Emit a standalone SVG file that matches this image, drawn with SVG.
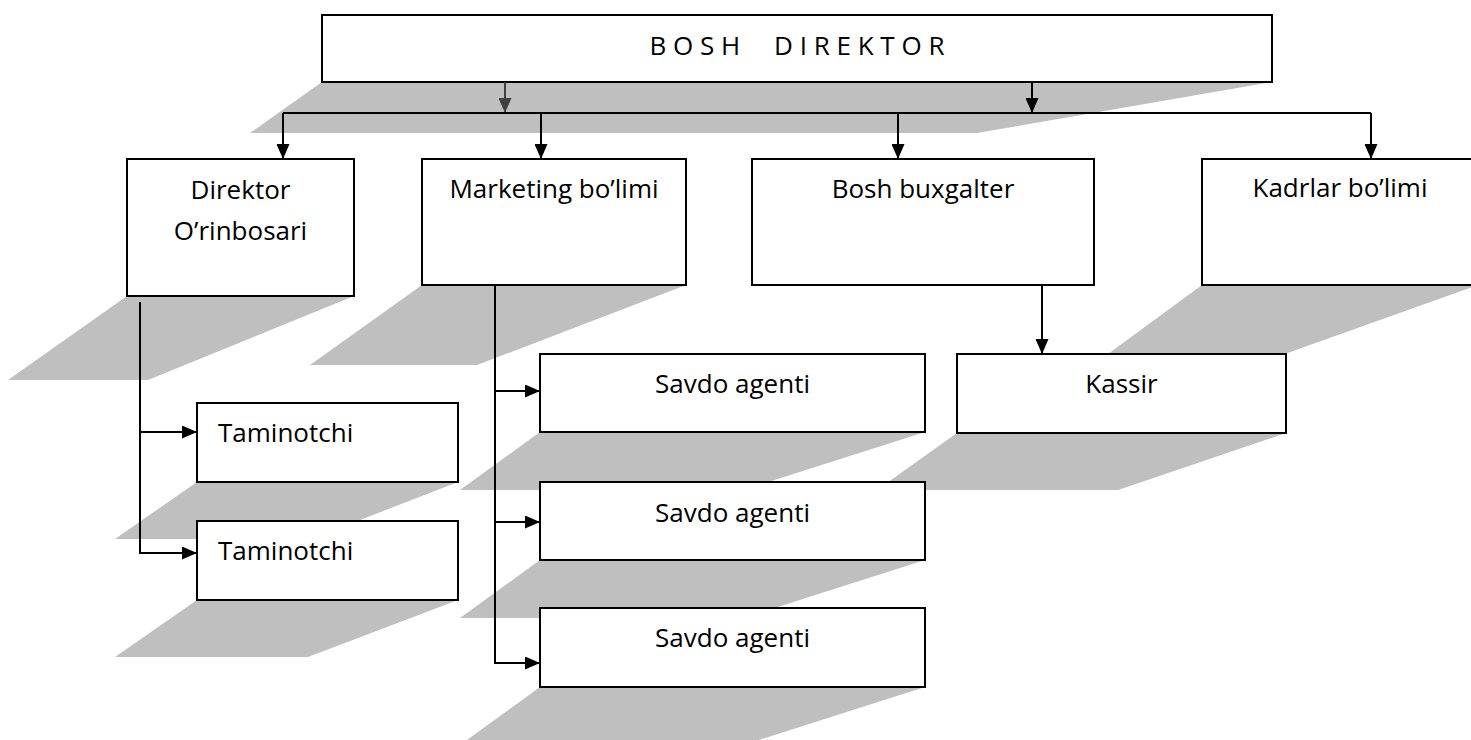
<svg xmlns="http://www.w3.org/2000/svg" width="1471" height="740" viewBox="0 0 1471 740">
<defs>
<marker id="ah" markerUnits="userSpaceOnUse" markerWidth="15" markerHeight="13" refX="15" refY="6.5" orient="auto"><path d="M0,0 L15,6.5 L0,13 z" fill="#000"/></marker>
<marker id="ahg" markerUnits="userSpaceOnUse" markerWidth="15" markerHeight="13" refX="15" refY="6.5" orient="auto"><path d="M0,0 L15,6.5 L0,13 z" fill="#404040"/></marker>
<style>
.sh{fill:#bfbfbf;stroke:none}
.bx{fill:#fff;stroke:#000;stroke-width:2}
.t{font-family:"Open Sans","Liberation Sans",sans-serif;font-size:26px;fill:#000}
.c{text-anchor:middle}
.ln{fill:none;stroke:#000;stroke-width:2}
.lg{fill:none;stroke:#404040;stroke-width:2}
</style>
</defs>
<rect width="1471" height="740" fill="#fff"/>
<g id="node-bosh-direktor">
<polygon class="sh" points="322,82 1272,82 977,133 250,133"/>
<rect class="bx" x="322" y="15" width="950" height="67"/>
<text class="t c" x="797" y="55" font-size="25" xml:space="preserve">B O S H     D I R E K T O R</text>
</g>
<g id="node-direktor-orinbosari">
<polygon class="sh" points="127,296 354,296 148,380 8,380"/>
<rect class="bx" x="127" y="159" width="227" height="137"/>
<text class="t c" x="240.5" y="199">Direktor</text>
<text class="t c" x="240.5" y="240">O’rinbosari</text>
</g>
<g id="node-marketing">
<polygon class="sh" points="422,285 686,285 477,365 310,365"/>
<rect class="bx" x="422" y="159" width="264" height="126"/>
<text class="t c" x="554" y="198">Marketing bo’limi</text>
</g>
<g id="node-bosh-buxgalter">
<rect class="bx" x="752" y="159" width="342" height="126"/>
<text class="t c" x="923" y="198">Bosh buxgalter</text>
</g>
<g id="node-kadrlar">
<polygon class="sh" points="1202,285 1478,285 1254,365 1093,365"/>
<rect class="bx" x="1202" y="159" width="276" height="126"/>
<text class="t c" x="1340" y="197">Kadrlar bo’limi</text>
</g>
<g id="node-kassir">
<polygon class="sh" points="957,433 1286,433 1118,490 877,490"/>
<rect class="bx" x="957" y="354" width="329" height="79"/>
<text class="t c" x="1121.5" y="393">Kassir</text>
</g>
<g id="node-taminotchi-1">
<polygon class="sh" points="197,482 458,482 311,539 115,539"/>
<rect class="bx" x="197" y="403" width="261" height="79"/>
<text class="t" x="218" y="442">Taminotchi</text>
</g>
<g id="node-taminotchi-2">
<polygon class="sh" points="197,600 458,600 308,657 115,657"/>
<rect class="bx" x="197" y="521" width="261" height="79"/>
<text class="t" x="218" y="560">Taminotchi</text>
</g>
<g id="node-savdo-agenti-1">
<polygon class="sh" points="540,432 925,432 743,490 460,490"/>
<rect class="bx" x="540" y="354" width="385" height="78"/>
<text class="t c" x="732.5" y="393">Savdo agenti</text>
</g>
<g id="node-savdo-agenti-2">
<polygon class="sh" points="540,560 925,560 743,618 460,618"/>
<rect class="bx" x="540" y="482" width="385" height="78"/>
<text class="t c" x="732.5" y="522">Savdo agenti</text>
</g>
<g id="node-savdo-agenti-3">
<polygon class="sh" points="540,687 925,687 743,745 460,745"/>
<rect class="bx" x="540" y="608" width="385" height="79"/>
<text class="t c" x="732.5" y="647">Savdo agenti</text>
</g>
<g id="connectors">
<path class="lg" d="M505,82 V113" marker-end="url(#ahg)"/>
<path class="ln" d="M1032,82 V113" marker-end="url(#ah)"/>
<path class="ln" d="M283,113 H1371"/>
<path class="ln" d="M283,113 V159" marker-end="url(#ah)"/>
<path class="ln" d="M541,113 V159" marker-end="url(#ah)"/>
<path class="ln" d="M898,113 V159" marker-end="url(#ah)"/>
<path class="ln" d="M1371,113 V159" marker-end="url(#ah)"/>
<path class="ln" d="M1042,285 V354" marker-end="url(#ah)"/>
<path class="ln" d="M140,302 V553 H197" marker-end="url(#ah)"/>
<path class="ln" d="M140,432 H197" marker-end="url(#ah)"/>
<path class="ln" d="M495,285 V663 H540" marker-end="url(#ah)"/>
<path class="ln" d="M495,391 H540" marker-end="url(#ah)"/>
<path class="ln" d="M495,522 H540" marker-end="url(#ah)"/>
</g>
</svg>
